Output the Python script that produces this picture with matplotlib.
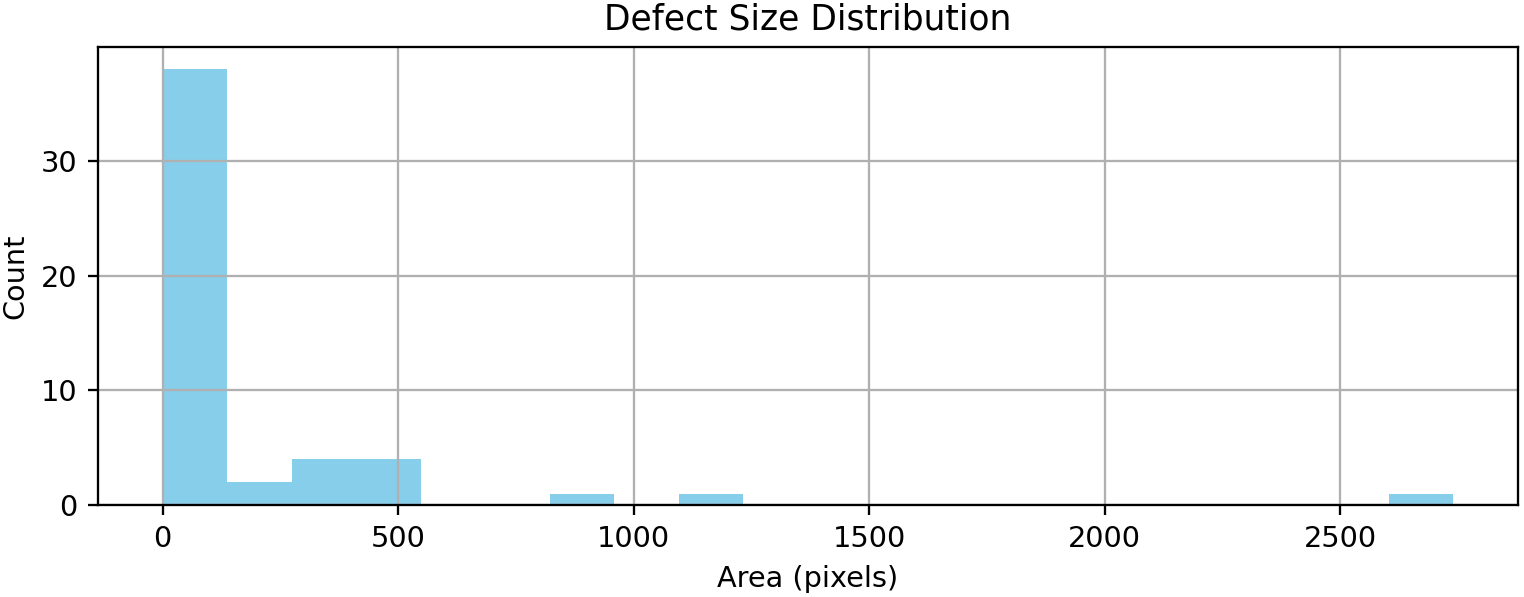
import numpy as np
import matplotlib
matplotlib.use("Agg")
import matplotlib.pyplot as plt

# histogram: 20 equal bins between min and max area
area_min = 0
area_max = 2740
bin_counts = [38, 2, 4, 4, 0, 0, 1, 0, 1, 0,
              0, 0, 0, 0, 0, 0, 0, 0, 0, 1]

edges = np.linspace(area_min, area_max, len(bin_counts) + 1)
centers = (edges[:-1] + edges[1:]) / 2

dpi = 207
fig, ax = plt.subplots(figsize=(1524 / dpi, 597 / dpi), dpi=dpi)
ax.hist(centers, bins=edges, weights=bin_counts, color="skyblue")

ax.set_title("Defect Size Distribution")
ax.set_xlabel("Area (pixels)")
ax.set_ylabel("Count")
ax.grid(True)

fig.subplots_adjust(left=0.0643, right=0.996, top=0.921, bottom=0.154)
fig.savefig("out.png")
